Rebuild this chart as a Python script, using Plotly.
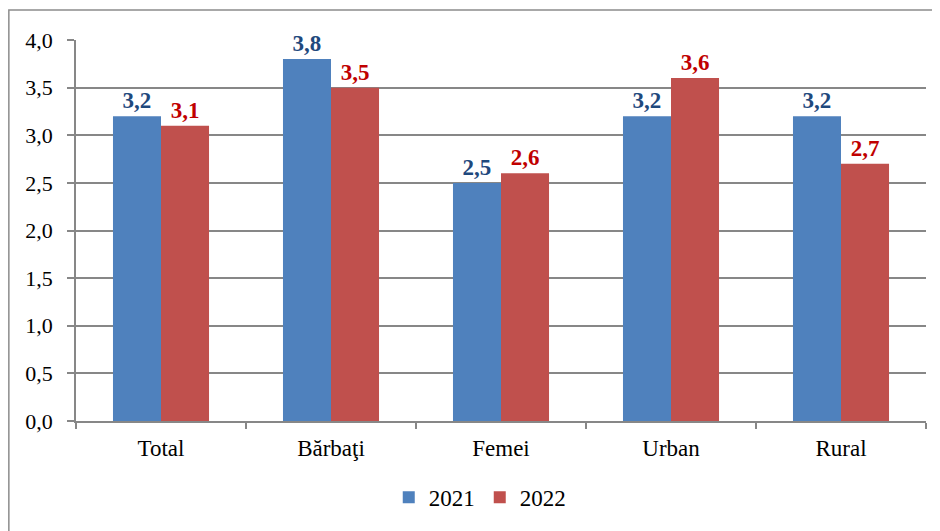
import plotly.graph_objects as go

categories = ["Total", "Bărbaţi", "Femei", "Urban", "Rural"]
values_2021 = [3.2, 3.8, 2.5, 3.2, 3.2]
values_2022 = [3.1, 3.5, 2.6, 3.6, 2.7]
y_ticks = [0.0, 0.5, 1.0, 1.5, 2.0, 2.5, 3.0, 3.5, 4.0]

FONT = "Times New Roman, Liberation Serif, serif"
BLUE = "#4F81BD"
RED = "#C0504D"
GRID = "#878787"


def fmt(v):
    return f"{v:.1f}".replace(".", ",")


fig = go.Figure()
fig.add_trace(go.Bar(
    x=categories, y=values_2021, name="2021",
    marker=dict(color=BLUE, line=dict(width=0)),
    text=[fmt(v) for v in values_2021],
    textposition="outside", cliponaxis=False,
    textfont=dict(family=FONT, size=23, color="#1F497D", weight="bold"),
))
fig.add_trace(go.Bar(
    x=categories, y=values_2022, name="2022",
    marker=dict(color=RED, line=dict(width=0)),
    text=[fmt(v) for v in values_2022],
    textposition="outside", cliponaxis=False,
    textfont=dict(family=FONT, size=23, color="#C00000", weight="bold"),
))

# outer chart frame (cropped at right/bottom like the original)
fig.add_shape(type="rect", xref="paper", yref="paper",
              x0=-0.079, x1=1.05, y0=-0.5, y1=1.079,
              line=dict(color="#8C8C8C", width=1.5), fillcolor="rgba(0,0,0,0)")

# page body has an 8px margin, so the figure is sized to fit the window
fig.update_layout(
    width=932, height=523,
    margin=dict(l=68, r=14, t=32, b=110),
    paper_bgcolor="white", plot_bgcolor="white",
    separators=", ",
    barmode="group", bargap=0.435, bargroupgap=0,
    font=dict(family=FONT, size=23, color="#000000"),
    showlegend=True,
    legend=dict(orientation="h", x=0.475, xanchor="center", y=-0.2, yanchor="middle",
                font=dict(family=FONT, size=23), itemwidth=30, traceorder="normal"),
)
fig.update_xaxes(
    showline=True, linecolor=GRID, linewidth=1.5,
    ticks="outside", tickson="boundaries", ticklen=6, tickcolor=GRID, tickwidth=1.5,
    tickfont=dict(family=FONT, size=23), ticklabelstandoff=6,
)
fig.update_yaxes(
    range=[0, 4.0], tickvals=y_ticks, tickformat=".1f",
    showgrid=True, gridcolor=GRID, gridwidth=1.5,
    showline=True, linecolor=GRID, linewidth=1.5,
    ticks="outside", ticklen=7, tickcolor=GRID, tickwidth=1.5,
    tickfont=dict(family=FONT, size=22), ticklabelstandoff=10, zeroline=False,
)

fig.write_html("out.html")
